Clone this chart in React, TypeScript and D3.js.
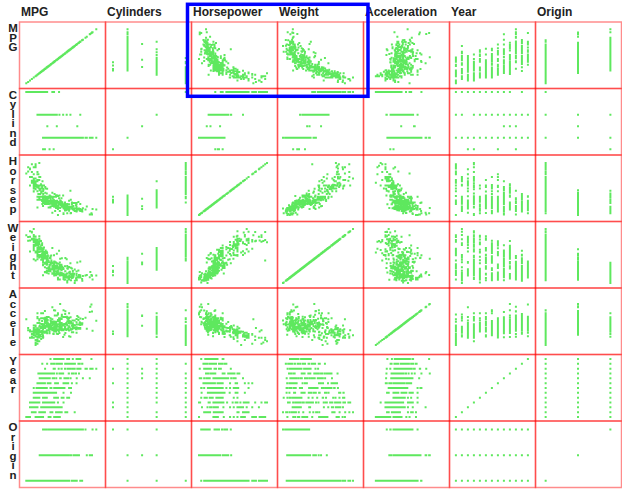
import React from "react";
import * as d3 from "d3";

// Column titles and (truncated) row titles
const columnTitles = ["MPG", "Cylinders", "Horsepower", "Weight", "Acceleration", "Year", "Origin"];
const rowTitles = ["MPG", "Cylind", "Horsep", "Weight", "Accele", "Year", "Origin"];

// Axis domains per variable
const xDomains: [number, number][] = [
  [7.5, 49.4], [2.76, 8.12], [36.5, 247.5], [1538, 5466], [5.4, 29.7], [69.6, 82.6], [0.81, 3.22],
];
const yDomains: [number, number][] = [
  [8.2, 48.9], [2.85, 7.95], [37, 244], [1548, 5369], [5.75, 29.7], [70, 82.1], [0.89, 3.18],
];

// Rows per model year: [mpg, cylinders, horsepower, weight, acceleration, origin]
const cars70 = [
  [18,8,130,3504,12,1],[15,8,165,3693,11.5,1],[18,8,150,3436,11,1],[16,8,150,3433,12,1],
  [17,8,140,3449,10.5,1],[15,8,198,4341,10,1],[14,8,220,4354,9,1],[14,8,215,4312,8.5,1],
  [14,8,225,4425,10,1],[15,8,190,3850,8.5,1],[15,8,170,3563,10,1],[14,8,160,3609,8,1],
  [15,8,150,3761,9.5,1],[14,8,225,3086,10,1],[24,4,95,2372,15,3],[22,6,95,2833,15.5,1],
  [18,6,97,2774,15.5,1],[21,6,85,2587,16,1],[27,4,88,2130,14.5,3],[26,4,46,1835,20.5,2],
  [25,4,87,2672,17.5,2],[24,4,90,2430,14.5,2],[25,4,95,2375,17.5,2],[26,4,113,2234,12.5,2],
  [21,6,90,2648,15,1],[10,8,215,4615,14,1],[10,8,200,4376,15,1],[11,8,210,4382,13.5,1],
  [9,8,193,4732,18.5,1],
];
const cars71 = [
  [27,4,88,2130,14.5,3],[28,4,90,2264,15.5,1],[25,4,95,2228,14,3],[19,6,100,2634,13,1],
  [16,6,105,3439,15.5,1],[17,6,100,3329,15.5,1],[19,6,88,3302,15.5,1],[18,6,100,3288,15.5,1],
  [14,8,165,4209,12,1],[14,8,175,4464,11.5,1],[14,8,153,4154,13.5,1],[14,8,150,4096,13,1],
  [12,8,180,4955,11.5,1],[13,8,170,4746,12,1],[13,8,175,5140,12,1],[18,6,110,2962,13.5,1],
  [22,4,72,2408,19,1],[19,6,100,3282,15,1],[18,6,88,3139,14.5,1],[23,4,86,2220,14,1],
  [28,4,90,2123,14,2],[30,4,70,2074,19.5,2],[30,4,76,2065,14.5,2],[31,4,65,1773,19,3],
  [35,4,69,1613,18,3],[27,4,60,1834,19,2],[26,4,70,1955,20.5,1],
];
const cars72 = [
  [24,4,95,2278,15.5,3],[25,4,80,2126,17,1],[23,4,54,2254,23.5,2],[20,4,90,2408,19.5,1],
  [21,4,86,2226,16.5,1],[13,8,165,4274,12,1],[14,8,175,4385,12,1],[15,8,150,4135,13.5,1],
  [14,8,153,4129,13,1],[17,8,150,3672,11.5,1],[11,8,208,4633,11,1],[13,8,155,4502,13.5,1],
  [12,8,160,4456,13.5,1],[13,8,190,4422,12.5,1],[19,3,97,2330,13.5,3],[15,8,150,3892,12.5,1],
  [13,8,130,4098,14,1],[13,8,140,4294,16,1],[14,8,150,4077,14,1],[18,4,112,2933,14.5,2],
  [22,4,76,2511,18,2],[21,4,87,2979,19.5,2],[26,4,69,2189,18,2],[22,4,86,2395,16,1],
  [28,4,92,2288,17,3],[23,4,97,2506,14.5,3],[28,4,80,2164,15,1],[27,4,88,2100,16.5,3],
];
const cars73 = [
  [13,8,175,4100,13,1],[14,8,150,3672,11.5,1],[13,8,145,3988,13,1],[14,8,137,4042,14.5,1],
  [15,8,150,3777,12.5,1],[12,8,198,4952,11.5,1],[13,8,150,4464,12,1],[13,8,158,4363,13,1],
  [14,8,150,4237,14.5,1],[13,8,215,4735,11,1],[12,8,225,4951,11,1],[13,8,175,3821,11,1],
  [18,6,105,3121,16.5,1],[16,6,100,3278,18,1],[18,6,100,2945,16,1],[18,6,88,3021,16.5,1],
  [23,6,95,2904,16,1],[26,4,46,1950,21,2],[11,8,150,4997,14,1],[12,8,167,4906,12.5,1],
  [13,8,170,4654,13,1],[12,8,180,4499,12.5,1],[18,6,100,2789,15,1],[20,4,88,2279,19,3],
  [21,4,72,2401,19.5,1],[22,4,94,2379,16.5,3],[18,3,90,2124,13.5,3],[19,4,85,2310,18.5,1],
  [21,6,107,2472,14,1],[26,4,90,2265,15.5,2],[15,8,145,4082,13,1],[16,8,230,4278,9.5,1],
  [29,4,49,1867,19.5,2],[24,4,75,2158,15.5,2],[20,4,91,2582,14,2],[19,4,112,2868,15.5,2],
  [15,8,150,3399,11,1],[24,4,110,2660,14,2],[20,6,122,2807,13.5,3],[11,8,180,3664,11,1],
];
const cars74 = [
  [20,6,95,3102,16.5,1],[19,6,100,2901,16,1],[15,6,100,3336,17,1],[31,4,67,1950,19,3],
  [26,4,80,2451,16.5,1],[32,4,65,1836,21,3],[25,4,75,2542,17,1],[16,6,100,3781,17,1],
  [16,6,110,3632,18,1],[18,6,105,3613,16.5,1],[16,8,140,4141,14,1],[13,8,150,4699,14.5,1],
  [14,8,150,4457,13.5,1],[14,8,140,4638,16,1],[14,8,150,4257,15.5,1],[29,4,83,2219,16.5,2],
  [26,4,67,1963,15.5,2],[26,4,78,2300,14.5,2],[31,4,52,1649,16.5,3],[32,4,61,2003,19,3],
  [28,4,75,2125,14.5,1],[24,4,75,2108,15.5,2],[26,4,75,2246,14,2],[24,4,97,2489,15,3],
  [26,4,93,2391,15.5,3],[31,4,67,2000,16,2],
];
const cars75 = [
  [19,6,95,3264,16,1],[18,6,105,3459,16,1],[15,6,72,3432,21,1],[15,6,72,3158,19.5,1],
  [16,8,170,4668,11.5,1],[15,8,145,4440,14,1],[16,8,150,4498,14.5,1],[14,8,148,4657,13.5,1],
  [17,6,110,3907,21,1],[16,6,105,3897,18.5,1],[15,6,110,3730,19,1],[18,6,95,3785,19,1],
  [21,6,110,3039,15,1],[20,8,110,3221,13.5,1],[13,8,129,3169,12,1],[29,4,75,2171,16,3],
  [23,4,83,2639,17,1],[20,6,100,2914,16,1],[23,4,78,2592,18.5,1],[24,4,96,2702,13.5,3],
  [25,4,71,2223,16.5,2],[24,4,97,2545,17,3],[18,6,97,2984,14.5,1],[29,4,70,1937,14,2],
  [19,6,90,3211,17,1],[23,4,95,2694,15,2],[23,4,88,2957,17,2],[22,4,98,2945,14.5,2],
  [25,4,115,2671,13.5,2],[33,4,53,1795,17.5,3],
];
const cars76 = [
  [28,4,86,2464,15.5,2],[25,4,81,2220,16.9,2],[25,4,92,2572,14.9,1],[26,4,79,2255,17.7,1],
  [27,4,83,2202,15.3,2],[17.5,8,140,4215,13,1],[16,8,150,4190,13,1],[15.5,8,120,3962,13.9,1],
  [14.5,8,152,4215,12.8,1],[22,6,100,3233,15.4,1],[22,6,105,3353,14.5,1],[24,6,81,3012,17.6,1],
  [22.5,6,90,3085,17.6,1],[29,4,52,2035,22.2,1],[24.5,4,60,2164,22.1,1],[29,4,70,1937,14.2,2],
  [33,4,53,1795,17.4,3],[20,6,100,3651,17.7,1],[18,6,78,3574,21,1],[18.5,6,110,3645,16.2,1],
  [17.5,6,95,3193,17.8,1],[29.5,4,71,1825,12.2,2],[32,4,70,1990,17,3],[28,4,75,2155,16.4,3],
  [26.5,4,72,2565,13.6,1],[20,4,102,3150,15.7,2],[13,8,150,3940,13.2,1],[19,4,88,3270,21.9,2],
  [19,6,108,2930,15.5,3],[16.5,6,120,3820,16.7,2],[16.5,8,180,4380,12.1,1],[13,8,145,4055,12,1],
  [13,8,130,3870,15,1],[13,8,150,3755,14,1],
];
const cars77 = [
  [31.5,4,68,2045,18.5,3],[30,4,80,2155,14.8,1],[36,4,58,1825,18.6,2],[25.5,4,96,2300,15.5,1],
  [33.5,4,70,1945,16.8,3],[17.5,8,145,3880,12.5,1],[17,8,110,4060,19,1],[15.5,8,145,4140,13.7,1],
  [15,8,130,4295,14.9,1],[17.5,6,110,3520,16.4,1],[20.5,6,105,3425,16.9,1],[19,6,100,3630,17.7,1],
  [18.5,6,98,3525,19,1],[16,8,180,4220,11.1,1],[15.5,8,170,4165,11.4,1],[15.5,8,190,4325,12.2,1],
  [16,8,149,4335,14.5,1],[29,4,78,1940,14.5,2],[24.5,4,88,2740,16,1],[26,4,75,2265,18.2,3],
  [25.5,4,89,2755,15.8,1],[30.5,4,63,2051,17,1],[33.5,4,83,2075,15.9,1],[30,4,67,1985,16.4,3],
  [30.5,4,78,2190,14.1,2],[22,6,97,2815,14.5,3],[21.5,4,110,2600,12.8,2],[21.5,3,110,2720,13.5,3],
];
const cars78 = [
  [43.1,4,48,1985,21.5,2],[36.1,4,66,1800,14.4,1],[32.8,4,52,1985,19.4,3],[39.4,4,70,2070,18.6,3],
  [36.1,4,60,1800,16.4,3],[19.9,8,110,3365,15.5,1],[19.4,8,140,3735,13.2,1],[20.2,8,139,3570,12.8,1],
  [19.2,6,105,3535,19.2,1],[20.5,6,95,3155,18.2,1],[20.2,6,85,2965,15.8,1],[25.1,4,88,2720,15.4,1],
  [20.5,6,100,3430,17.2,1],[19.4,6,90,3210,17.2,1],[20.6,6,105,3380,15.8,1],[20.8,6,85,3070,16.7,1],
  [18.6,6,110,3620,18.7,1],[18.1,6,120,3410,15.1,1],[19.2,8,145,3425,13.2,1],[17.7,6,165,3445,13.4,1],
  [18.1,8,139,3205,11.2,1],[17.5,8,140,4080,13.7,1],[30,4,68,2155,16.5,1],[27.5,4,95,2560,14.2,3],
  [27.2,4,97,2300,14.7,3],[30.9,4,75,2230,14.5,1],[21.1,4,95,2515,14.8,3],[23.2,4,105,2745,16.7,1],
  [23.8,4,85,2855,17.6,1],[23.9,4,97,2405,14.9,3],[20.3,5,103,2830,15.9,2],[17,6,125,3140,13.6,2],
  [21.6,4,115,2795,15.7,2],[16.2,6,133,3410,15.8,2],[31.5,4,71,1990,14.9,2],[29.5,4,68,2135,16.6,3],
];
const cars79 = [
  [21.5,6,115,3245,15.4,1],[19.8,6,85,2990,18.2,1],[22.3,4,88,2890,17.3,1],[20.2,6,90,3265,18.2,1],
  [20.6,6,110,3360,16.6,1],[17,8,130,3840,15.4,1],[17.6,8,129,3725,13.4,1],[16.5,8,138,3955,13.2,1],
  [18.2,8,135,3830,15.2,1],[16.9,8,155,4360,14.9,1],[15.5,8,142,4054,14.3,1],[19.2,8,125,3605,15,1],
  [18.5,8,150,3940,13,1],[31.9,4,71,1925,14,2],[34.1,4,65,1975,15.2,3],[35.7,4,80,1915,14.4,1],
  [27.4,4,80,2670,15,1],[25.4,5,77,3530,20.1,2],[23,8,125,3900,17.4,1],[27.2,4,71,3190,24.8,2],
  [23.9,8,90,3420,22.2,1],[34.2,4,70,2200,13.2,1],[34.5,4,70,2150,14.9,1],[31.8,4,65,2020,19.2,3],
  [37.3,4,69,2130,14.7,2],[28.4,4,90,2670,16,1],[28.8,6,115,2595,11.3,1],[26.8,6,115,2700,12.9,1],
  [33.5,4,90,2556,13.2,1],
];
const cars80 = [
  [41.5,4,76,2144,14.7,2],[38.1,4,60,1968,18.8,3],[32.1,4,70,2120,15.5,1],[37.2,4,65,2019,16.4,3],
  [28,4,90,2678,16.5,1],[26.4,4,88,2870,18.1,1],[24.3,4,90,3003,20.1,1],[19.1,6,90,3381,18.7,1],
  [34.3,4,78,2188,15.8,2],[29.8,4,90,2711,15.5,3],[31.3,4,75,2542,17.5,3],[37,4,92,2434,15,3],
  [32.2,4,75,2265,15.2,3],[46.6,4,65,2110,17.9,3],[27.9,4,105,2800,14.4,1],[40.8,4,65,2110,19.2,3],
  [44.3,4,48,2085,21.7,2],[43.4,4,48,2335,23.7,2],[36.4,5,67,2950,19.9,2],[30,4,67,3250,21.8,2],
  [44.6,4,67,1850,13.8,3],[33.8,4,67,2145,18,3],[29.8,4,62,1845,15.3,2],[32.7,6,132,2910,11.4,3],
  [23.7,3,100,2420,12.5,3],[35,4,88,2500,15.1,2],[32.4,4,72,2290,17,3],
];
const cars81 = [
  [27.2,4,84,2490,15.7,1],[26.6,4,84,2635,16.4,1],[25.8,4,92,2620,14.4,1],[23.5,6,110,2725,12.6,1],
  [30,4,84,2385,12.9,1],[39.1,4,58,1755,16.9,3],[39,4,64,1875,16.4,1],[35.1,4,60,1760,16.1,3],
  [32.3,4,67,2065,17.8,3],[37,4,65,1975,19.4,3],[37.7,4,62,2050,17.3,3],[34.1,4,68,1985,16,3],
  [34.7,4,63,2215,14.9,1],[34.4,4,65,2045,16.2,1],[29.9,4,65,2380,20.7,1],[33,4,74,2190,14.2,2],
  [33.7,4,75,2210,14.4,3],[32.4,4,75,2350,16.8,3],[32.9,4,100,2615,14.8,3],[31.6,4,74,2635,18.3,3],
  [28.1,4,80,3230,20.4,2],[30.7,6,76,3160,19.6,2],[25.4,6,116,2900,12.6,3],[24.2,6,120,2930,13.8,3],
  [22.4,6,110,3415,15.8,1],[26.6,8,105,3725,19,1],[20.2,6,88,3060,17.1,1],[17.6,6,85,3465,16.6,1],
];
const cars82 = [
  [28,4,88,2605,19.6,1],[27,4,88,2640,18.6,1],[34,4,88,2395,18,1],[31,4,85,2575,16.2,1],
  [29,4,84,2525,16,1],[27,4,90,2735,18,1],[24,4,92,2865,16.4,1],[36,4,74,1980,15.3,2],
  [37,4,68,2025,18.2,3],[31,4,68,1970,17.6,3],[38,4,63,2125,14.7,1],[36,4,70,2125,17.3,1],
  [36,4,88,2160,14.5,3],[36,4,75,2205,14.5,3],[34,4,70,2245,16.9,3],[38,4,67,1965,15,3],
  [32,4,67,1965,15.7,3],[38,4,67,1995,16.2,3],[25,6,110,2945,16.4,1],[38,6,85,3015,17,1],
  [26,4,92,2585,14.5,1],[22,6,112,2835,14.7,1],[32,4,96,2665,13.9,3],[36,4,84,2370,13,1],
  [27,4,90,2950,17.3,1],[27,4,86,2790,15.6,1],[44,4,52,2130,24.6,2],[32,4,84,2295,11.6,1],
  [28,4,79,2625,18.6,1],[31,4,82,2720,19.4,1],
];

const modelYears = [70, 71, 72, 73, 74, 75, 76, 77, 78, 79, 80, 81, 82];
const yearLists = [cars70, cars71, cars72, cars73, cars74, cars75, cars76, cars77, cars78, cars79, cars80, cars81, cars82];

// [mpg, cyl, hp, weight, accel, year, origin]
const records: number[][] = yearLists.flatMap((list, i) =>
  list.map((r) => [r[0], r[1], r[2], r[3], r[4], modelYears[i], r[5]])
);

const W = 622;
const H = 489;
const gridLeft = 19.5;
const gridTop = 22;
const cellW = 86;
const cellH = 66.5;
const PAD = 4;
const n = columnTitles.length;

export default function App() {
  const xScales = xDomains.map((dom, j) =>
    d3.scaleLinear().domain(dom).range([gridLeft + j * cellW + PAD, gridLeft + (j + 1) * cellW - PAD])
  );
  const yScales = yDomains.map((dom, i) =>
    d3.scaleLinear().domain(dom).range([gridTop + (i + 1) * cellH - PAD, gridTop + i * cellH + PAD])
  );

  const cells: React.ReactNode[] = [];
  for (let i = 0; i < n; i++) {
    for (let j = 0; j < n; j++) {
      const p = d3.path();
      records.forEach((r) => {
        const x = xScales[j](r[j]);
        const y = yScales[i](r[i]);
        p.rect(x - 1, y - 1, 2, 2);
      });
      cells.push(<path key={`p${i}-${j}`} d={p.toString()} fill="#5ee85e" />);
    }
  }

  const borders: React.ReactNode[] = [];
  for (let i = 0; i < n; i++) {
    for (let j = 0; j < n; j++) {
      borders.push(
        <rect
          key={`b${i}-${j}`}
          x={gridLeft + j * cellW}
          y={gridTop + i * cellH}
          width={cellW}
          height={cellH}
          fill="none"
          stroke="#ff0000"
          strokeOpacity={0.45}
          strokeWidth={1.5}
        />
      );
    }
  }

  const font = "'Liberation Sans', Arial, Helvetica, sans-serif";

  return (
    <svg
      width={W}
      height={H}
      style={{ position: "absolute", left: 0, top: 0, background: "#fff" }}
    >
      <rect x={0} y={0} width={W} height={H} fill="#fff" />
      {cells}
      {borders}
      {columnTitles.map((t, j) => (
        <text
          key={`c${j}`}
          x={gridLeft + j * cellW + 1.5}
          y={15.5}
          fontFamily={font}
          fontWeight="bold"
          fontSize={12}
          fill="#222"
        >
          {t}
        </text>
      ))}
      {rowTitles.map((t, i) => (
        <g key={`r${i}`}>
          {t.split("").map((ch, k) => (
            <text
              key={k}
              x={13}
              y={gridTop + i * cellH + 10 + k * 9.5}
              textAnchor="middle"
              fontFamily={font}
              fontWeight="bold"
              fontSize={11.5}
              fill="#222"
            >
              {ch}
            </text>
          ))}
        </g>
      ))}
      <rect x={187.5} y={4.3} width={180.5} height={92} fill="none" stroke="#0000ff" strokeWidth={3.5} />
    </svg>
  );
}
